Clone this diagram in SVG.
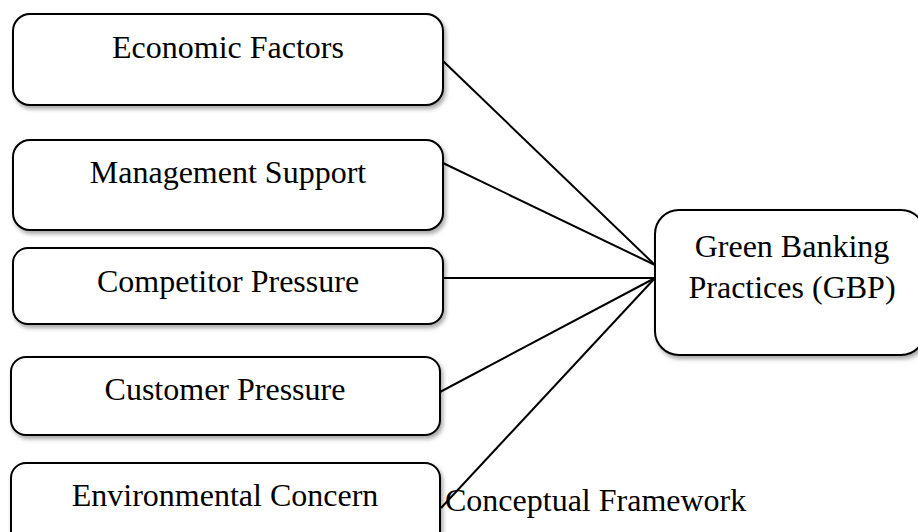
<svg xmlns="http://www.w3.org/2000/svg" width="918" height="532" viewBox="0 0 918 532">
  <style>
    .box { fill: #ffffff; stroke: #000000; stroke-width: 2; filter: url(#shadow); }
    .lbl { font-family: "Liberation Serif", "Times New Roman", serif; font-size: 32px; fill: #000000; text-anchor: middle; }
    .conn line { stroke: #000000; stroke-width: 2; }
  </style>
  <defs>
    <filter id="shadow" x="-10%" y="-10%" width="130%" height="140%">
      <feDropShadow dx="2" dy="3" stdDeviation="2" flood-color="#000000" flood-opacity="0.35"/>
    </filter>
  </defs>
  <rect width="918" height="532" fill="#ffffff"/>
  <g id="connectors" class="conn">
    <line x1="443" y1="61" x2="655" y2="265"/>
    <line x1="443" y1="163" x2="655" y2="265"/>
    <line x1="443" y1="278" x2="655" y2="278"/>
    <line x1="440" y1="392" x2="655" y2="278"/>
    <line x1="441" y1="508" x2="655" y2="278"/>
  </g>
  <g id="economic">
    <rect class="box" x="13" y="14" width="430" height="91" rx="17"/>
    <text class="lbl" x="228" y="58">Economic Factors</text>
  </g>
  <g id="management">
    <rect class="box" x="13" y="140" width="430" height="90" rx="17"/>
    <text class="lbl" x="228" y="183">Management Support</text>
  </g>
  <g id="competitor">
    <rect class="box" x="13" y="248" width="430" height="76" rx="15"/>
    <text class="lbl" x="228" y="292">Competitor Pressure</text>
  </g>
  <g id="customer">
    <rect class="box" x="11" y="357" width="429" height="78" rx="15"/>
    <text class="lbl" x="225" y="400">Customer Pressure</text>
  </g>
  <g id="environmental">
    <rect class="box" x="11" y="463" width="429" height="85" rx="15"/>
    <text class="lbl" x="225" y="506">Environmental Concern</text>
  </g>
  <g id="gbp">
    <rect class="box" x="655" y="210" width="270" height="145" rx="24"/>
    <text class="lbl" x="792" y="257">Green Banking</text>
    <text class="lbl" x="792" y="298">Practices (GBP)</text>
  </g>
  <g id="caption">
    <text x="445" y="511" style="font-family: 'Liberation Serif', 'Times New Roman', serif; font-size: 32px; fill: #000000;">Conceptual Framework</text>
  </g>
</svg>
